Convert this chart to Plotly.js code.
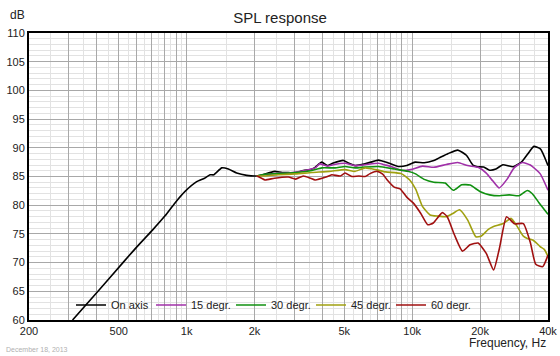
<!DOCTYPE html>
<html>
<head>
<meta charset="utf-8">
<script src="https://cdn.plot.ly/plotly-3.0.1.min.js"></script>
<style>
html,body{margin:0;padding:0;background:#fff;}
#chart{width:560px;height:356px;}
</style>
</head>
<body>
<div id="chart"></div>
<script>
// ---- data ----
const seriesNames = ["On axis", "15 degr.", "30 degr.", "45 degr.", "60 degr."];
const seriesColors = ["#000000", "#a030a8", "#109010", "#a0a010", "#a01010"];

const freqOnAxis = [312, 400, 522, 600, 707, 800, 888, 984, 1108, 1200, 1270, 1320, 1431, 1531, 1667, 1847, 2045, 2296, 2462, 2650, 2825, 3040, 3291, 3545, 3710, 3973, 4200, 4470, 4955, 5210, 5580, 6180, 7080, 7840, 8660, 9460, 10290, 11310, 12470, 13100, 14450, 15920, 17380, 18580, 19500, 20750, 22050, 23500, 25230, 28050, 30660, 32500, 34630, 37010, 40000];
const splOnAxis  = [60, 64.8, 70, 72.7, 75.7, 78.1, 80.4, 82.4, 84.1, 84.7, 85.3, 85.3, 86.5, 86.3, 85.6, 85.2, 85.1, 85.6, 85.9, 85.7, 85.7, 85.6, 86.05, 86.2, 86.6, 87.5, 86.9, 87.35, 87.8, 87.35, 86.9, 87.2, 87.85, 87.35, 86.75, 86.9, 87.5, 87.4, 87.8, 88.2, 89.0, 89.6, 88.7, 87.0, 86.7, 86.65, 86.1, 86.3, 87.05, 86.7, 87.6, 88.9, 90.25, 89.8, 86.9];

const freq15 = [2045, 2226, 2450, 2825, 3200, 3710, 3890, 4200, 4470, 5038, 5580, 6180, 7080, 7600, 8120, 8950, 9850, 11100, 12470, 14170, 15920, 17600, 19600, 21300, 22800, 24300, 26300, 28300, 30800, 33400, 36900, 40000];
const spl15  = [85.1, 85.3, 85.5, 85.6, 85.9, 86.5, 87.2, 86.8, 87.05, 87.3, 86.9, 87.05, 87.3, 87.0, 86.7, 86.05, 86.2, 86.8, 86.6, 87.1, 87.45, 86.9, 86.6, 85.6, 84.2, 83.0, 84.5, 86.5, 87.45, 87.0, 85.5, 82.6];

const freq30 = [2045, 2226, 2550, 3040, 3595, 3973, 4550, 5038, 5580, 6180, 7080, 8350, 9560, 10290, 11310, 12470, 13990, 15230, 16560, 18050, 19950, 22050, 24370, 26940, 29780, 32380, 34080, 36540, 40000];
const spl30  = [85.1, 85.4, 85.5, 85.7, 86.05, 86.5, 86.5, 86.75, 86.5, 86.65, 86.75, 86.3, 85.9, 85.5, 84.5, 84.0, 83.85, 82.6, 83.55, 83.5, 82.4, 81.8, 81.65, 81.8, 81.65, 82.55, 82.0, 80.4, 78.4];

const freq45 = [2045, 2226, 2550, 3040, 3595, 4290, 5038, 5580, 6180, 6900, 7630, 8950, 9750, 10360, 11100, 12000, 13000, 14170, 15200, 16200, 17600, 19150, 20200, 21750, 22950, 25350, 27400, 29100, 31100, 32400, 34400, 36900, 38500, 40000];
const spl45  = [85.1, 85.1, 85.3, 85.45, 85.7, 85.9, 86.2, 85.9, 86.5, 86.2, 85.8, 85.5, 84.4, 82.8, 79.8, 78.3, 78.1, 78.0, 78.6, 79.2, 77.45, 74.5, 74.6, 75.8, 76.3, 76.8, 77.7, 76.4, 74.6, 74.2, 73.9, 72.8, 72.3, 71.1];

const freq60 = [2045, 2150, 2226, 2450, 2825, 3040, 3290, 3545, 3710, 4150, 4400, 4800, 5038, 5400, 5800, 6180, 6500, 7000, 7400, 7750, 8320, 8840, 9460, 10100, 10900, 11720, 12400, 13600, 14300, 15400, 16700, 18050, 19600, 21300, 22950, 24370, 26200, 28400, 31100, 33400, 35300, 37900, 40000];
const spl60  = [85.1, 84.7, 84.4, 84.7, 84.9, 84.55, 85.1, 84.7, 84.4, 84.9, 85.3, 85.1, 85.6, 85.0, 85.1, 85.0, 85.5, 85.9, 85.4, 84.4, 83.15, 82.85, 81.4, 80.4, 78.6, 76.6, 76.9, 78.7, 78.0, 74.8, 72.0, 73.1, 73.4, 71.6, 68.7, 72.5, 78.0, 76.75, 76.8, 73.5, 69.7, 69.3, 71.3];

const xMajorVals = [200,300,400,500,600,700,800,900,1000,2000,3000,4000,5000,6000,7000,8000,9000,10000,20000,30000,40000];
const xLabelMap = {200:"200",500:"500",1000:"1k",2000:"2k",5000:"5k",10000:"10k",20000:"20k",40000:"40k"};
const xMinorVals = [250,350,450,550,650,750,850,950,1500,2500,3500,4500,5500,6500,7500,8500,9500,15000,25000,35000];
const yTickVals = [60,65,70,75,80,85,90,95,100,105,110];

// ---- build ----
const freqs = [freqOnAxis, freq15, freq30, freq45, freq60];
const spls = [splOnAxis, spl15, spl30, spl45, spl60];
const traces = seriesNames.map((n, i) => ({
  type: "scatter", mode: "lines", name: n,
  x: freqs[i], y: spls[i],
  line: {color: seriesColors[i], width: 1.6, shape: "spline", smoothing: 0.5},
  hoverinfo: "skip"
}));

const FONT = "Liberation Sans, Arial, sans-serif";
const layout = {
  width: 560, height: 356,
  margin: {l: 29, r: 12, t: 33, b: 36, pad: 0},
  paper_bgcolor: "#ffffff", plot_bgcolor: "#ffffff",
  font: {family: FONT, size: 11, color: "#222"},
  showlegend: true,
  title: {text: "SPL response", font: {family: FONT, size: 15, color: "#222"},
          x: 0.5, xref: "container", y: 1 - 18/356, yref: "container", yanchor: "middle"},
  xaxis: {
    type: "log", range: [Math.log10(200), Math.log10(40000)],
    tickmode: "array", tickvals: xMajorVals,
    ticktext: xMajorVals.map(v => xLabelMap[v] || ""),
    ticks: "", showgrid: true, gridcolor: "#a8a8a8", gridwidth: 1,
    minor: {tickmode: "array", tickvals: xMinorVals, showgrid: true, gridcolor: "#e2e2e2", gridwidth: 1, ticks: ""},
    showline: true, linecolor: "#000", linewidth: 2, mirror: true,
    zeroline: false, tickfont: {size: 11, color: "#222"}, fixedrange: true
  },
  yaxis: {
    range: [60, 110], tickmode: "array", tickvals: yTickVals,
    ticks: "", showgrid: true, gridcolor: "#a8a8a8", gridwidth: 1,
    minor: {dtick: 1, showgrid: true, gridcolor: "#e2e2e2", gridwidth: 1, ticks: ""},
    showline: true, linecolor: "#000", linewidth: 2, mirror: true,
    zeroline: false, tickfont: {size: 11, color: "#222"}, fixedrange: true
  },
  legend: {
    orientation: "h", x: (71 - 29) / 519, xanchor: "left", y: (320 - 305) / 287, yanchor: "middle",
    bgcolor: "rgba(0,0,0,0)", borderwidth: 0, font: {size: 11, color: "#222"},
    entrywidth: 35, entrywidthmode: "pixels", itemclick: false, itemdoubleclick: false
  },
  annotations: [
    {text: "dB", xref: "paper", yref: "paper", x: (8 - 29) / 519, xanchor: "left",
     y: (320 - 15) / 287, yanchor: "middle", showarrow: false, font: {size: 12, color: "#222"}},
    {text: "Frequency, Hz", xref: "paper", yref: "paper", x: 1, xanchor: "right",
     y: (320 - 343) / 287, yanchor: "middle", showarrow: false, font: {size: 12, color: "#222"}},
    {text: "December 18, 2013", xref: "paper", yref: "paper", x: (4 - 29) / 519, xanchor: "left",
     y: (320 - 349) / 287, yanchor: "middle", showarrow: false, font: {size: 7, color: "#b0b0b0"}}
  ]
};

Plotly.newPlot("chart", traces, layout, {displayModeBar: false, staticPlot: true});
</script>
</body>
</html>
